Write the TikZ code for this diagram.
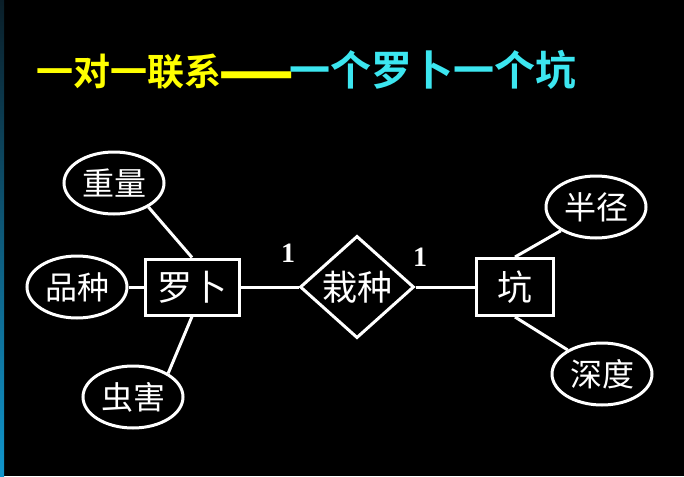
\documentclass[tikz,border=0pt]{standalone}
\usepackage{fontspec}
\usepackage{graphicx}
\usetikzlibrary{shapes.geometric}
\setmainfont{Noto Sans CJK SC}
\newfontfamily\cjkbold{Noto Sans CJK SC Bold}
\newfontfamily\numfont{Liberation Serif}
\definecolor{titleyellow}{RGB}{255,255,0}
\definecolor{titlecyan}{RGB}{60,230,240}
\definecolor{stripbot}{RGB}{16,150,205}
\definecolor{striptop}{RGB}{10,30,40}
\begin{document}
\begin{tikzpicture}[x=1pt,y=-1pt,
  every node/.style={text=white, inner sep=0pt},
  attr/.style={ellipse, draw=white, line width=3pt, minimum width=100pt, minimum height=62pt, font=\fontsize{32}{32}\selectfont},
  entity/.style={rectangle, draw=white, line width=3pt, font=\fontsize{35}{35}\selectfont},
  rel/.style={diamond, draw=white, line width=3pt, minimum width=114pt, minimum height=102pt, font=\fontsize{35}{35}\selectfont},
  link/.style={draw=white, line width=3pt},
  card/.style={font=\numfont\bfseries\fontsize{28}{28}\selectfont},
  titletext/.style={anchor=base west, font=\cjkbold}
]
\fill[black] (0,0) rectangle (684,476);
\useasboundingbox (0,0) rectangle (684,476);
\shade[top color=striptop, bottom color=stripbot] (0,0) rectangle (4,476);

\node[titletext, text=titleyellow] (title1) at (36,86)
  {\fontsize{37}{37}\selectfont 一对一联系};
\node[titletext, text=titleyellow] (title2) at (219.5,86)
  {\fontsize{37}{37}\selectfont\raisebox{-10.5pt}{\scalebox{1.18}[2]{——}}};
\node[titletext, text=titlecyan] (title3) at (289,86)
  {\fontsize{41}{41}\selectfont 一个罗卜一个坑};

\node[entity, minimum width=94pt, minimum height=56pt] (lb) at (192,287) {罗卜};
\node[rel] (zz) at (357,287) {栽种};
\node[entity, minimum width=77pt, minimum height=57pt] (keng) at (515,287) {坑};

\node[attr] (zl) at (114,183) {重量};
\node[attr] (pz) at (77,287) {品种};
\node[attr] (ch) at (133,397) {虫害};
\node[attr] (bj) at (596,207) {半径};
\node[attr] (sd) at (602,374) {深度};

\draw[link] (zl.-35) -- (lb.north);
\draw[link] (pz) -- (lb);
\draw[link] (ch.34) -- (lb.south);
\draw[link] (lb) -- (zz);
\draw[link] (zz) -- (keng);
\draw[link] (keng.north) -- (bj.214);
\draw[link] (keng.south) -- (sd.145);

\node[card] (c1) at (288,253) {1};
\node[card] (c2) at (420,257) {1};
\end{tikzpicture}
\end{document}
